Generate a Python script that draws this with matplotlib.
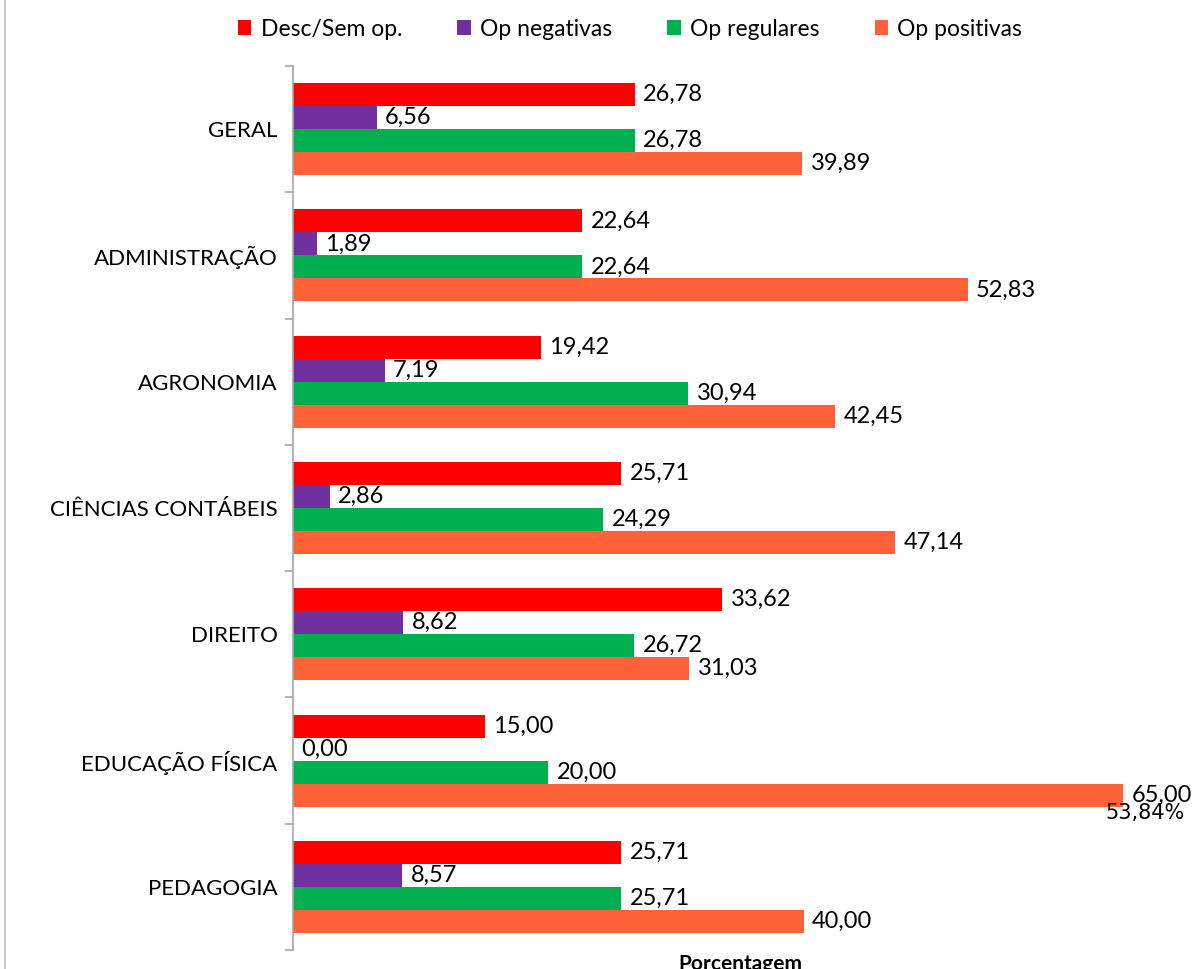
import numpy as np
import matplotlib.pyplot as plt
from matplotlib.lines import Line2D

plt.rcParams['font.family'] = ['Lato', 'DejaVu Sans']

# data
cursos = ["GERAL", "ADMINISTRAÇÃO", "AGRONOMIA", "CIÊNCIAS CONTÁBEIS",
          "DIREITO", "EDUCAÇÃO FÍSICA", "PEDAGOGIA"]
desc_sem_op = [26.78, 22.64, 19.42, 25.71, 33.62, 15.00, 25.71]
op_negativas = [6.56, 1.89, 7.19, 2.86, 8.62, 0.00, 8.57]
op_regulares = [26.78, 22.64, 30.94, 24.29, 26.72, 20.00, 25.71]
op_positivas = [39.89, 52.83, 42.45, 47.14, 31.03, 65.00, 40.00]

series = [
    ("Desc/Sem op.", desc_sem_op, "#FF0000"),
    ("Op negativas", op_negativas, "#7030A0"),
    ("Op regulares", op_regulares, "#00B050"),
    ("Op positivas", op_positivas, "#FF6139"),
]

fig = plt.figure(figsize=(12.04, 9.69), dpi=100)
ax = fig.add_axes([293 / 1204, 1 - 950 / 969, (1187 - 293) / 1204, (950 - 66) / 969])

y = np.arange(len(cursos))
h = 0.182
for i, (nome, vals, cor) in enumerate(series):
    pos = y + (i - 1.5) * h
    bars = ax.barh(pos, vals, height=h, color=cor, label=nome)
    for b, v in zip(bars, vals):
        ax.annotate(f"{v:.2f}".replace(".", ","),
                    (b.get_width(), b.get_y() + b.get_height() / 2),
                    xytext=(6, 0), textcoords="offset points",
                    ha="left", va="center", fontsize=17)

# stray label from the original
ax.text(63.6, 5 + 1.5 * h + 0.14, "53,84%", family="DejaVu Sans", fontsize=15,
        ha="left", va="center")

ax.set_xlim(0, 70)
ax.set_ylim(6.5, -0.5)
ax.set_yticks(y)
ax.set_yticklabels(cursos, fontsize=16)
ax.set_yticks(np.arange(-0.5, 7, 1), minor=True)
ax.tick_params(axis="y", which="major", length=0, pad=11)
ax.tick_params(axis="y", which="minor", length=6, color="#A6A6A6", width=1.2)
ax.set_xticks([])
for s in ["top", "right", "bottom"]:
    ax.spines[s].set_visible(False)
ax.spines["left"].set_color("#A6A6A6")
ax.spines["left"].set_linewidth(1.2)

ax.set_xlabel("Porcentagem", fontsize=15, fontweight="bold", labelpad=3)

fig.legend(loc="center", bbox_to_anchor=(630 / 1204, 1 - 29 / 969), ncol=4,
           frameon=False, fontsize=16.5, handlelength=0.6, handleheight=0.6,
           handletextpad=0.4, columnspacing=2.4)

fig.add_artist(Line2D([5 / 1204, 5 / 1204], [0, 1], color="#BFBFBF", lw=1.2))

fig.savefig("out.png", dpi=100)
